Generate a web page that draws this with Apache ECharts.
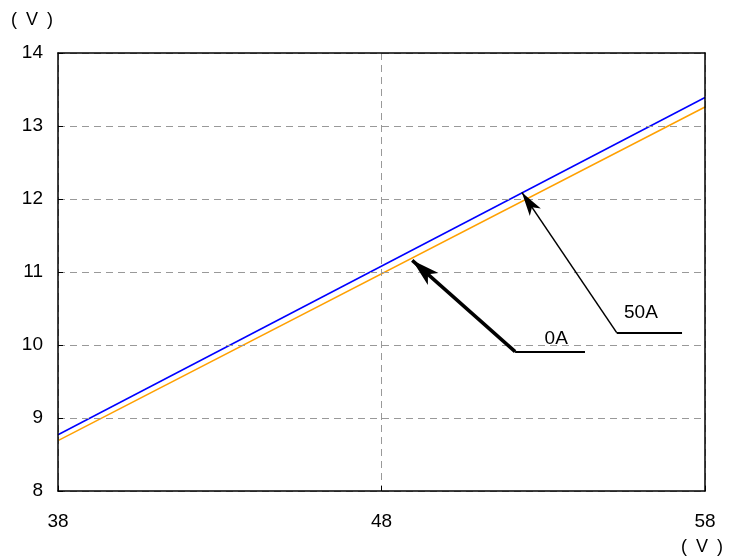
<!DOCTYPE html>
<html><head><meta charset="utf-8">
<script src="https://cdn.jsdelivr.net/npm/echarts@6/dist/echarts.min.js"></script>
<style>html,body{margin:0;padding:0;background:#fff}#c{width:744px;height:557px}</style>
</head><body><div id="c"></div>
<script>
const xTicks = [38, 48, 58];
const yTicks = [8, 9, 10, 11, 12, 13, 14];
const lineX = [38, 58];
const blueY = [8.77, 13.39];
const orangeY = [8.69, 13.26];
const axisUnit = '(\u2002V\u2002)';
// annotations (data coordinates)
const ann0A = { label: '0A', tail: [52.13, 9.91], head: [48.95, 11.16], end: [54.29, 9.91], text: [53.4, 10.08] };
const ann50A = { label: '50A', tail: [55.27, 10.17], head: [52.34, 12.09], end: [57.29, 10.17], text: [56.02, 10.44] };

const font = '"Liberation Sans", Arial, sans-serif';
const chart = echarts.init(document.getElementById('c'));

function arrowLines(a, width, size) {
  return [
    [{ coord: a.tail, symbol: 'none' }, { coord: a.head, symbol: 'arrow', symbolSize: size, lineStyle: { width: width } }],
    [{ coord: a.tail, symbol: 'none' }, { coord: a.end, symbol: 'none', lineStyle: { width: 2 } }]
  ];
}
const dash = { color: '#999', type: [7, 5], width: 1 };
const frameAxis = {
  axisLine: { show: true, lineStyle: { color: '#000', width: 1.5 } },
  axisTick: { show: false }, axisLabel: { show: false }, splitLine: { show: false }, z: 5
};

chart.setOption({
  animation: false,
  grid: { left: 58, right: 39, top: 53, bottom: 66 },
  xAxis: [{
    type: 'value', min: xTicks[0], max: xTicks[xTicks.length - 1], interval: 10,
    axisLine: { show: true, lineStyle: { color: '#000', width: 1.5 } },
    axisTick: { show: true, inside: true, length: 5, lineStyle: { color: '#000', width: 1 } },
    axisLabel: { color: '#000', fontSize: 19, fontFamily: font, margin: 21 },
    splitLine: { show: true, lineStyle: dash }, z: 5
  }, Object.assign({ type: 'value', position: 'top', min: xTicks[0], max: xTicks[xTicks.length - 1], interval: 10 }, frameAxis)],
  yAxis: [{
    type: 'value', min: yTicks[0], max: yTicks[yTicks.length - 1], interval: 1,
    axisLine: { show: true, lineStyle: { color: '#000', width: 1.5 } },
    axisTick: { show: true, inside: true, length: 5, lineStyle: { color: '#000', width: 1 } },
    axisLabel: { color: '#000', fontSize: 19, fontFamily: font, margin: 15 },
    splitLine: { show: true, lineStyle: dash }, z: 5
  }, Object.assign({ type: 'value', position: 'right', min: yTicks[0], max: yTicks[yTicks.length - 1], interval: 1 }, frameAxis)],
  graphic: [
    { type: 'text', x: 32, y: 20, style: { text: axisUnit, font: '18px ' + font, fill: '#000', align: 'center', verticalAlign: 'middle' } },
    { type: 'text', x: 702, y: 547, style: { text: axisUnit, font: '18px ' + font, fill: '#000', align: 'center', verticalAlign: 'middle' } }
  ],
  series: [
    {
      type: 'line', data: lineX.map((x, i) => [x, blueY[i]]), symbol: 'none',
      lineStyle: { color: '#0000ff', width: 1.5 }, z: 3
    },
    {
      type: 'line', data: lineX.map((x, i) => [x, orangeY[i]]), symbol: 'none',
      lineStyle: { color: '#ffa000', width: 1.5 }, z: 3,
      markLine: {
        silent: true, animation: false,
        lineStyle: { color: '#000', type: 'solid', width: 1.5 },
        label: { show: false },
        data: arrowLines(ann0A, 3.5, [12, 28]).concat(arrowLines(ann50A, 1.5, [10, 24]))
      },
      markPoint: {
        silent: true, symbol: 'rect', symbolSize: 2,
        itemStyle: { color: 'rgba(0,0,0,0)' },
        label: { show: true, position: 'inside', color: '#000', fontSize: 19, fontFamily: font, formatter: p => p.name },
        data: [
          { name: ann0A.label, coord: ann0A.text },
          { name: ann50A.label, coord: ann50A.text }
        ]
      }
    }
  ]
});
</script></body></html>
